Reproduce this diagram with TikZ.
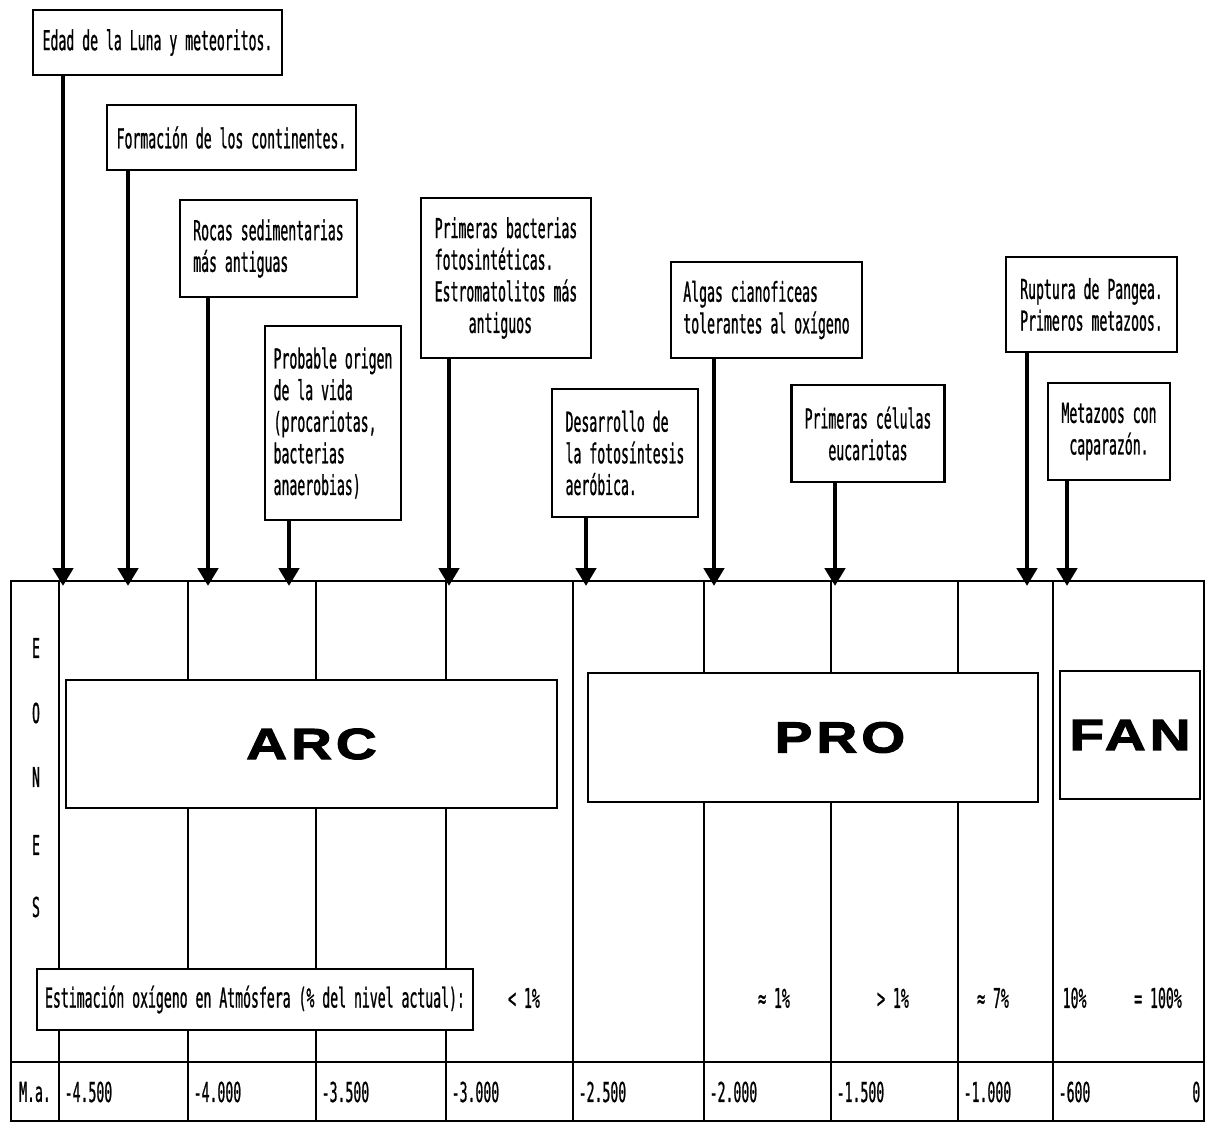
\documentclass[tikz,border=0pt]{standalone}
\usepackage{fontspec}
\setmainfont{DejaVu Sans Mono}[FakeStretch=0.48,FakeBold=0.8]
\newfontfamily\eonfont{Liberation Sans}[FakeStretch=1.3,LetterSpace=9,BoldFeatures={FakeBold=2.5}]
\usepackage{tikz}
\usetikzlibrary{arrows.meta}

\begin{document}
\begin{tikzpicture}[
  evt/.style={draw, line width=0.8pt, fill=white, align=left, inner sep=0pt, font=\fontsize{7.8}{9}\selectfont},
  eon/.style={draw, line width=0.8pt, fill=white, inner sep=0pt, font=\eonfont\fontsize{12.4}{13}\selectfont\bfseries},
  cell/.style={inner sep=0pt, font=\fontsize{7.8}{9}\selectfont},
  grid/.style={line width=0.8pt},
  stem/.style={line width=1.4pt, -{Triangle[width=5.7pt,length=5.1pt]}}
]
\useasboundingbox (0,0) rectangle (12.06,-11.26);
% ---- table
\draw[grid] (0.11,-5.81) rectangle (12.04,-11.21);
\draw[grid] (0.11,-10.62) -- (12.04,-10.62);
\foreach \x in {0.59,1.88,3.16,4.46,5.73,7.04,8.31,9.58,10.53} { \draw[grid] (\x,-5.81) -- (\x,-11.21); }
% ---- eons
\node[eon, minimum width=4.91cm, minimum height=1.28cm] (arc) at (3.115,-7.44) {ARC};
\node[eon, minimum width=4.50cm, minimum height=1.29cm] (pro) at (8.13,-7.375) {\hspace*{0.54cm}PRO};
\node[eon, minimum width=1.40cm, minimum height=1.28cm] (fan) at (11.30,-7.35) {FAN};
\foreach \l/\y [count=\i] in {E/6.48, O/7.13, N/7.77, E/8.45, S/9.07} { \node[cell] (eones\i) at (0.36,-\y) {\l}; }
% ---- oxygen
\node[evt, minimum width=4.36cm, minimum height=0.61cm] (oxi) at (2.55,-9.995) {Estimación oxígeno en Atmósfera (\% del nivel actual):};
\node[cell] (o1) at (5.24,-9.98) {< 1\%};
\node[cell] (o2) at (7.74,-9.98) {≈ 1\%};
\node[cell] (o3) at (8.93,-9.98) {> 1\%};
\node[cell] (o4) at (9.93,-9.98) {≈ 7\%};
\node[cell, anchor=west] (o5) at (10.62,-9.98) {10\%};
\node[cell] (o6) at (11.58,-9.98) {= 100\%};
% ---- millions of years
\node[cell] (ma) at (0.35,-10.92) {M.a.};
\foreach \v/\x [count=\i] in {-4.500/0.59, -4.000/1.88, -3.500/3.16, -3.000/4.46, -2.500/5.73, -2.000/7.04, -1.500/8.31, -1.000/9.58, -600/10.53} { \node[cell, anchor=west] (ma\i) at (\x+0.05,-10.92) {\v}; }
\node[cell, anchor=east] (ma10) at (12.01,-10.92) {0};
% ---- events
\node[evt, minimum width=2.49cm, minimum height=0.65cm] (luna) at (1.575,-0.425) {Edad de la Luna y meteoritos.};
\node[evt, minimum width=2.49cm, minimum height=0.65cm] (cont) at (2.315,-1.375) {Formación de los continentes.};
\node[evt, minimum width=1.77cm, minimum height=0.97cm] (rocas) at (2.685,-2.485) {Rocas sedimentarias\\más antiguas};
\node[evt, minimum width=1.36cm, minimum height=1.94cm] (vida) at (3.33,-4.23) {Probable origen\\de la vida\\(procariotas,\\bacterias\\anaerobias)};
\node[evt, minimum width=1.70cm, minimum height=1.60cm] (bact) at (5.06,-2.78) {Primeras bacterias\\fotosintéticas.\\Estromatolitos más\\\hspace*{0.34cm}antiguos};
\node[evt, minimum width=1.46cm, minimum height=1.28cm] (aerob) at (6.25,-4.53) {Desarrollo de\\la fotosíntesis\\aeróbica.};
\node[evt, minimum width=1.91cm, minimum height=0.96cm] (algas) at (7.665,-3.10) {Algas cianoficeas\\tolerantes al oxígeno};
\node[evt, align=center, minimum width=1.53cm, minimum height=0.97cm] (euca) at (8.68,-4.335) {Primeras células\\eucariotas};
\node[evt, minimum width=1.71cm, minimum height=0.95cm] (pangea) at (10.915,-3.045) {Ruptura de Pangea.\\Primeros metazoos.};
\node[evt, align=center, minimum width=1.22cm, minimum height=0.97cm] (capa) at (11.09,-4.315) {Metazoos con\\caparazón.};
\foreach \n/\x in {luna/0.63, cont/1.28, rocas/2.08, vida/2.89, bact/4.49, aerob/5.86, algas/7.14, euca/8.35, pangea/10.27, capa/10.67} {
  \coordinate (t-\n) at (\x,-5.86);
  \draw[stem] (\n.south -| t-\n) -- (t-\n);
}
\end{tikzpicture}
\end{document}
